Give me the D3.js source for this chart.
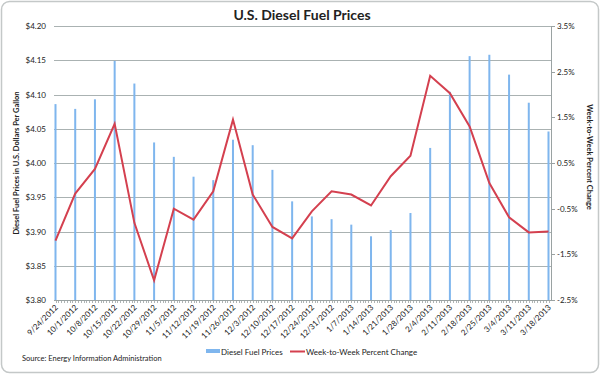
<!DOCTYPE html>
<html>
<head>
<meta charset="utf-8">
<script src="https://cdn.jsdelivr.net/npm/d3@7"></script>
<style>
  body { margin: 0; background: #fff; }
  text { font-family: Lato, "Open Sans", sans-serif; fill: #222; }
</style>
</head>
<body>
<div id="chart"></div>
<script>
var weeks = ["9/24/2012", "10/1/2012", "10/8/2012", "10/15/2012", "10/22/2012", "10/29/2012",
  "11/5/2012", "11/12/2012", "11/19/2012", "11/26/2012", "12/3/2012", "12/10/2012", "12/17/2012",
  "12/24/2012", "12/31/2012", "1/7/2013", "1/14/2013", "1/21/2013", "1/28/2013", "2/4/2013",
  "2/11/2013", "2/18/2013", "2/25/2013", "3/4/2013", "3/11/2013", "3/18/2013"];
var prices = [4.086, 4.079, 4.093, 4.149, 4.116, 4.030, 4.009, 3.980, 3.975, 4.034, 4.026, 3.990, 3.944,
  3.922, 3.918, 3.910, 3.893, 3.902, 3.927, 4.022, 4.104, 4.156, 4.158, 4.129, 4.088, 4.046];
var pctChange = [-1.20, -0.17, 0.37, 1.36, -0.81, -2.07, -0.50, -0.74, -0.12, 1.45, -0.19, -0.90, -1.15,
  -0.56, -0.12, -0.19, -0.43, 0.21, 0.66, 2.41, 2.03, 1.30, 0.06, -0.69, -1.02, -1.00];
var priceTicks = [3.80, 3.85, 3.90, 3.95, 4.00, 4.05, 4.10, 4.15, 4.20];
var pctTicks = [-2.5, -1.5, -0.5, 0.5, 1.5, 2.5, 3.5];

var width = 600, height = 375;
var parse = d3.timeParse("%m/%d/%Y");
var dates = weeks.map(parse);

var svg = d3.select("#chart").append("svg")
  .attr("width", width)
  .attr("height", height);

// outer frame
svg.append("rect")
  .attr("x", 1.5).attr("y", 1.5)
  .attr("width", width - 3).attr("height", height - 4)
  .attr("rx", 8)
  .attr("fill", "#fff")
  .attr("stroke", "#c4c8c8")
  .attr("stroke-width", 1.5);

var plotLeft = 54, plotRight = 551, plotTop = 26, plotBottom = 300;

var x = d3.scaleTime()
  .domain([dates[0], dates[dates.length - 1]])
  .range([plotLeft + 1.5, plotRight - 2.5]);
var yL = d3.scaleLinear().domain([3.80, 4.20]).range([plotBottom, plotTop]);
var yR = d3.scaleLinear().domain([-2.5, 3.5]).range([plotBottom, plotTop]);

// gridlines
svg.append("g").selectAll("line")
  .data(priceTicks.slice(1))
  .enter().append("line")
  .attr("x1", plotLeft).attr("x2", plotRight)
  .attr("y1", function(d) { return Math.round(yL(d)) + 0.5; })
  .attr("y2", function(d) { return Math.round(yL(d)) + 0.5; })
  .attr("stroke", "#aab2b2")
  .attr("stroke-width", 1);

// left tick labels
svg.append("g").selectAll("text")
  .data(priceTicks)
  .enter().append("text")
  .attr("x", plotLeft - 8)
  .attr("y", function(d) { return yL(d) + 3; })
  .attr("text-anchor", "end")
  .style("font-size", "8px")
  .text(function(d) { return "$" + d.toFixed(2); });

// bars
svg.append("g").selectAll("rect")
  .data(prices)
  .enter().append("rect")
  .attr("x", function(d, i) { return x(dates[i]) - 1; })
  .attr("y", function(d) { return yL(d); })
  .attr("width", 2)
  .attr("height", function(d) { return plotBottom - yL(d); })
  .attr("fill", "#7fb6ee");

// x axis
var days = d3.timeDay.range(dates[0], d3.timeDay.offset(dates[dates.length - 1], 1));
svg.append("line")
  .attr("x1", plotLeft).attr("x2", plotRight)
  .attr("y1", plotBottom + 0.5).attr("y2", plotBottom + 0.5)
  .attr("stroke", "#9aa2a2");
svg.append("g").selectAll("line")
  .data(days)
  .enter().append("line")
  .attr("x1", function(d) { return Math.round(x(d)) + 0.5; })
  .attr("x2", function(d) { return Math.round(x(d)) + 0.5; })
  .attr("y1", plotBottom).attr("y2", plotBottom + 3)
  .attr("stroke", "#9aa2a2")
  .attr("stroke-width", 0.8);

svg.append("g").selectAll("text")
  .data(weeks)
  .enter().append("text")
  .attr("text-anchor", "end")
  .attr("transform", function(d, i) {
    return "translate(" + (x(dates[i]) + 3) + "," + (plotBottom + 8) + ") rotate(-45)";
  })
  .style("font-size", "8px")
  .text(function(d) { return d; });

// right axis
svg.append("line")
  .attr("x1", plotRight + 0.5).attr("x2", plotRight + 0.5)
  .attr("y1", plotTop).attr("y2", plotBottom)
  .attr("stroke", "#9aa2a2");
svg.append("g").selectAll("line")
  .data(pctTicks)
  .enter().append("line")
  .attr("x1", plotRight).attr("x2", plotRight + 4)
  .attr("y1", function(d) { return Math.round(yR(d)) + 0.5; })
  .attr("y2", function(d) { return Math.round(yR(d)) + 0.5; })
  .attr("stroke", "#9aa2a2");
svg.append("g").selectAll("text")
  .data(pctTicks)
  .enter().append("text")
  .attr("x", plotRight + 6)
  .attr("y", function(d) { return yR(d) + 3; })
  .style("font-size", "8px")
  .text(function(d) { return d.toFixed(1) + "%"; });

// percent change line
var line = d3.line()
  .x(function(d, i) { return x(dates[i]); })
  .y(function(d) { return yR(d); });
svg.append("path")
  .datum(pctChange)
  .attr("d", line)
  .attr("fill", "none")
  .attr("stroke", "#d4404f")
  .attr("stroke-width", 2);

// title
svg.append("text")
  .attr("x", 302).attr("y", 20)
  .attr("text-anchor", "middle")
  .style("font-size", "14px")
  .style("font-weight", "bold")
  .text("U.S. Diesel Fuel Prices");

// axis titles
svg.append("text")
  .attr("transform", "translate(19,163) rotate(-90)")
  .attr("text-anchor", "middle")
  .style("font-size", "7.5px")
  .style("font-weight", "bold")
  .text("Diesel Fuel Prices in U.S. Dollars Per Gallon");
svg.append("text")
  .attr("transform", "translate(587,157) rotate(90)")
  .attr("text-anchor", "middle")
  .style("font-size", "7.5px")
  .style("font-weight", "bold")
  .text("Week-to-Week Percent Change");

// legend
svg.append("rect")
  .attr("x", 206).attr("y", 349).attr("width", 14).attr("height", 4)
  .attr("fill", "#7fb6ee");
svg.append("text")
  .attr("x", 221).attr("y", 355)
  .style("font-size", "8px")
  .text("Diesel Fuel Prices");
svg.append("line")
  .attr("x1", 290).attr("x2", 305).attr("y1", 351.5).attr("y2", 351.5)
  .attr("stroke", "#d4404f").attr("stroke-width", 2);
svg.append("text")
  .attr("x", 306).attr("y", 355)
  .style("font-size", "8px")
  .text("Week-to-Week Percent Change");

// source
svg.append("text")
  .attr("x", 22).attr("y", 361)
  .style("font-size", "7.5px")
  .text("Source: Energy Information Administration");
</script>
</body>
</html>
